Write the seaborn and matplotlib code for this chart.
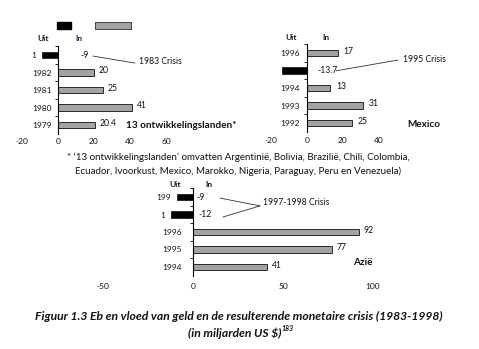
import matplotlib
matplotlib.use("Agg")
import matplotlib.pyplot as plt
import seaborn as sns
import pandas as pd
from matplotlib.patches import Rectangle
from matplotlib.transforms import ScaledTranslation

sns.set_theme(style="white")
plt.rcParams['font.family'] = ['Lato', 'DejaVu Sans']

# ---------------- data ----------------
dev_years = ["1", "1982", "1981", "1980", "1979"]
dev_values = [-9, 20, 25, 41, 20.4]
dev_labels = ["-9", "20", "25", "41", "20.4"]
dev_xticks = [-20, 0, 20, 40, 60]

mex_years = ["1996", "", "1994", "1993", "1992"]
mex_values = [17, -13.7, 13, 31, 25]
mex_labels = ["17", "-13.7", "13", "31", "25"]
mex_xticks = [-20, 0, 20, 40]

asia_years = ["199", "1", "1996", "1995", "1994"]
asia_values = [-9, -12, 92, 77, 41]
asia_labels = ["-9", "-12", "92", "77", "41"]
asia_xticks = [-50, 0, 50, 100]

GRAY = "#a3a3a3"
EDGE = "#2a2a2a"
TXT = "#111111"
W, H = 479, 349
PXU = 1.8     # pixels per data unit
ROW = 17.5    # pixels per row

fig = plt.figure(figsize=(W / 100, H / 100), dpi=100)


def make_axes(zero_px, row0_px, xlim):
    left = zero_px + xlim[0] * PXU
    right = zero_px + xlim[1] * PXU
    top = row0_px - 0.5 * ROW
    bottom = row0_px + 4.5 * ROW
    return fig.add_axes([left / W, 1 - bottom / H, (right - left) / W, (bottom - top) / H])


def panel(ax, cats, vals, labels, xlim, xticks, xpad, ypad_px, val_pad):
    df = pd.DataFrame({"cat": cats, "val": vals,
                       "kind": ["Uit" if v < 0 else "In" for v in vals]})
    sns.barplot(data=df, y="cat", x="val", hue="kind", order=cats,
                palette={"Uit": "black", "In": GRAY}, dodge=False, width=0.38,
                orient="h", ax=ax, legend=False, edgecolor=EDGE, linewidth=0.7)
    for p in ax.patches:
        p.set_zorder(3)
    ax.set_xlim(*xlim)
    ax.set_ylim(4.5, -0.5)
    ax.set_xlabel("")
    ax.set_ylabel("")
    ax.set_xticks(xticks)
    ax.set_xticklabels([str(t) for t in xticks])
    ax.set_yticks(range(len(cats)))
    ax.set_yticklabels(cats)
    ax.set_yticks([k - 0.5 for k in range(len(cats))], minor=True)
    for s in ["top", "right", "bottom"]:
        ax.spines[s].set_visible(False)
    ax.spines["left"].set_position(("data", 0))
    ax.spines["left"].set_color("black")
    ax.spines["left"].set_linewidth(0.8)
    ax.spines["left"].set_zorder(4)
    ax.patch.set_alpha(0)
    ax.tick_params(axis="x", length=0, pad=xpad, labelsize=6, colors=TXT)
    ax.tick_params(axis="y", which="major", length=0, pad=ypad_px * 0.72,
                   labelsize=6, colors=TXT)
    ax.tick_params(axis="y", which="minor", left=True, length=2, width=0.6,
                   color="black")
    # truncated year labels sit just left of the black bars
    for lbl, v in zip(ax.get_yticklabels(), vals):
        if v < 0:
            dx = (v * PXU + ypad_px - 6) / fig.dpi
            lbl.set_transform(lbl.get_transform() + ScaledTranslation(dx, 0, fig.dpi_scale_trans))
    for i, (v, lab) in enumerate(zip(vals, labels)):
        if v >= 0:
            ax.text(v + val_pad, i - 0.1, lab, ha="left", va="center",
                    fontsize=6.2, color=TXT)


# ---------- panel 1: 13 ontwikkelingslanden ----------
ax1 = make_axes(58, 55, (-20, 70))
panel(ax1, dev_years, dev_values, dev_labels, (-20, 70), dev_xticks, 2.7, 6, 2.6)
ax1.add_patch(Rectangle((-0.6, -1.69 - 0.2), 7.8, 0.4, color="black", clip_on=False))
ax1.add_patch(Rectangle((20.6, -1.69 - 0.2), 20, 0.4, facecolor=GRAY, edgecolor=EDGE,
                        linewidth=0.6, clip_on=False))
ax1.text(-8.3, -0.97, "Uit", ha="center", va="center", fontsize=6, weight="bold", color=TXT)
ax1.text(11.7, -0.97, "In", ha="center", va="center", fontsize=6, weight="bold",
         color="#2a1a3a")
ax1.text(12.2, 0, dev_labels[0], ha="left", va="center", fontsize=6.2, color=TXT)
ax1.plot([19.4, 42.8], [0.06, 0.46], color="#333333", lw=0.6, clip_on=False)
ax1.text(45, 0.4, "1983 Crisis", ha="left", va="center", fontsize=6.2, color=TXT)
ax1.text(37.8, 4.0, "13 ontwikkelingslanden*", ha="left", va="center", fontsize=7.2,
         weight="bold", clip_on=False, color=TXT)

# ---------- panel 2: Mexico ----------
ax2 = make_axes(307, 53, (-20, 50))
panel(ax2, mex_years, mex_values, mex_labels, (-20, 50), mex_xticks, 4.0, 7, 3.1)
ax2.text(-8.9, -0.86, "Uit", ha="center", va="center", fontsize=6, weight="bold", color=TXT)
ax2.text(10.5, -0.86, "In", ha="center", va="center", fontsize=6, weight="bold", color=TXT)
ax2.text(5.6, 1.0, mex_labels[1], ha="left", va="center", fontsize=6.2, color=TXT)
ax2.plot([16.1, 50.6], [1.02, 0.4], color="#333333", lw=0.6, clip_on=False)
ax2.text(53.3, 0.4, "1995 Crisis", ha="left", va="center", fontsize=6.2, clip_on=False,
         color=TXT)
ax2.text(55.6, 4.1, "Mexico", ha="left", va="center", fontsize=7.2, weight="bold",
         clip_on=False, color=TXT)

# ---------- panel 3: Azië ----------
ax3 = make_axes(193, 197, (-50, 110))
panel(ax3, asia_years, asia_values, asia_labels, (-50, 110), asia_xticks, 5.5, 11, 2.8)
ax3.text(-10, -0.74, "Uit", ha="center", va="center", fontsize=6, weight="bold", color=TXT)
ax3.text(8.9, -0.74, "In", ha="center", va="center", fontsize=6, weight="bold", color=TXT)
ax3.text(1.7, 0, asia_labels[0], ha="left", va="center", fontsize=6.2, color=TXT)
ax3.text(2.8, 1, asia_labels[1], ha="left", va="center", fontsize=6.2, color=TXT)
ax3.plot([15, 37.2], [0.06, 0.51], color="#333333", lw=0.6, clip_on=False)
ax3.plot([16.7, 37.2], [1.14, 0.51], color="#333333", lw=0.6, clip_on=False)
ax3.text(38.9, 0.34, "1997-1998 Crisis", ha="left", va="center", fontsize=6.2, color=TXT)
ax3.text(88.9, 3.77, "Azië", ha="left", va="center", fontsize=7.2, weight="bold",
         clip_on=False, color=TXT)

# ---------- footnote & caption ----------
fig.text(238 / W, 1 - 157 / H,
         "* \u201813 ontwikkelingslanden\u2019 omvatten Argentinië, Bolivia, Brazilië, Chili, Colombia,",
         ha="center", va="center", fontsize=7.05, color=TXT)
fig.text(238.5 / W, 1 - 171 / H,
         "Ecuador, Ivoorkust, Mexico, Marokko, Nigeria, Paraguay, Peru en Venezuela)",
         ha="center", va="center", fontsize=7.05, color=TXT)
fig.text(238.5 / W, 1 - 316 / H,
         "Figuur 1.3 Eb en vloed van geld en de resulterende monetaire crisis (1983-1998)",
         ha="center", va="center", fontsize=8.7, weight="bold", style="italic",
         color=TXT)
cap2 = fig.text(235 / W, 1 - 333 / H, "(in miljarden US $)", ha="center", va="center",
                fontsize=8.7, weight="bold", style="italic", color=TXT,
                parse_math=False)
ax3.annotate("183", xy=(1.0, 0.62), xycoords=cap2, ha="left", va="bottom",
             fontsize=5, style="italic", weight="bold", color=TXT)

fig.savefig("out.png", dpi=100, facecolor="white")
